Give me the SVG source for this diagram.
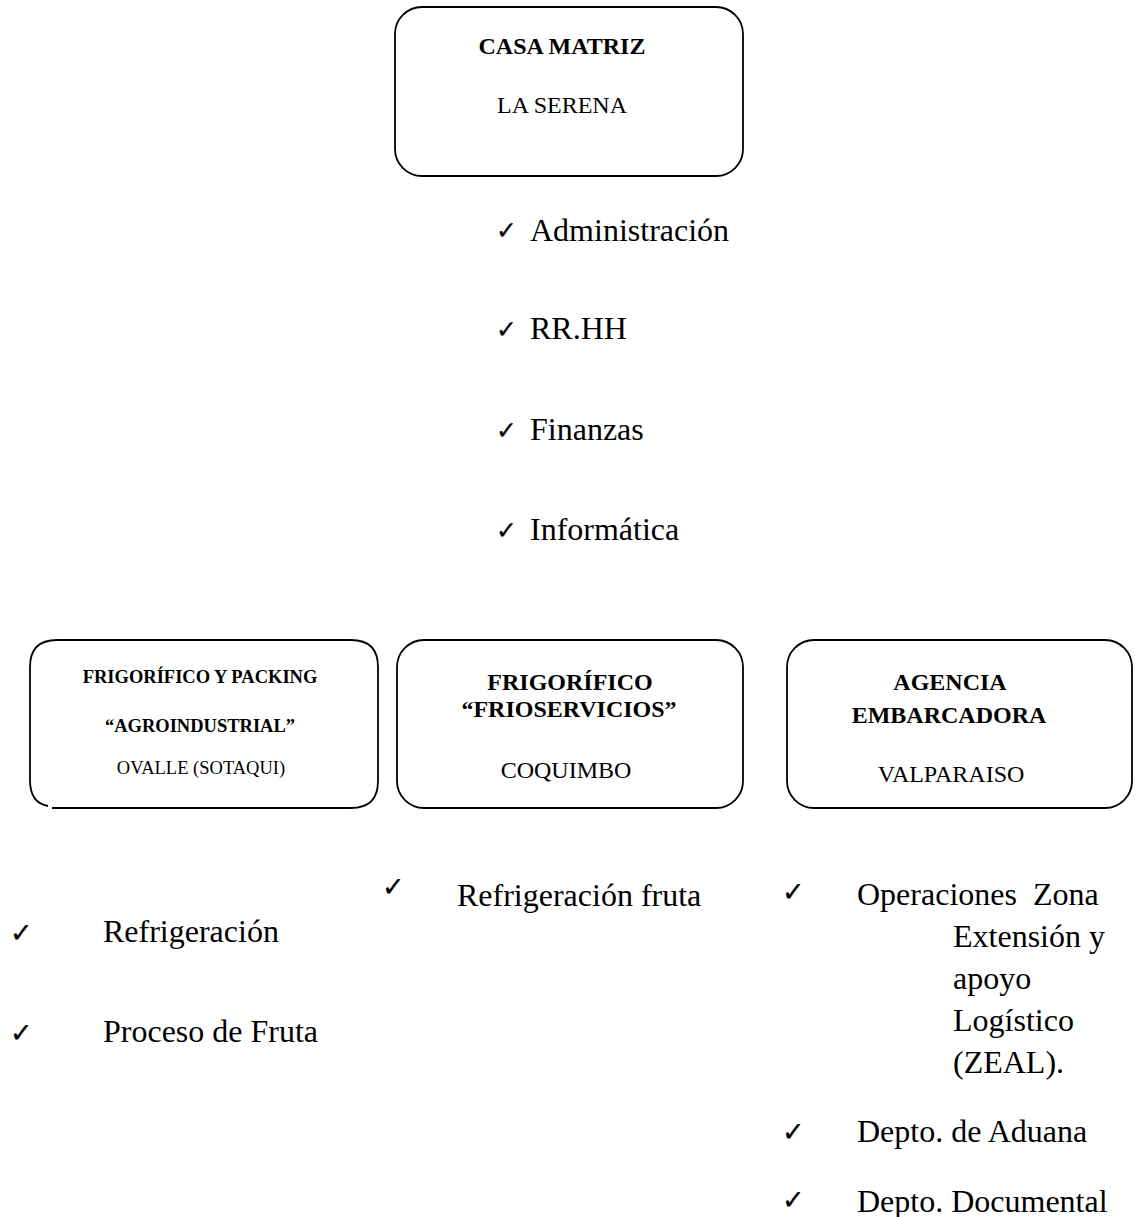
<svg xmlns="http://www.w3.org/2000/svg" width="1136" height="1217" viewBox="0 0 1136 1217">
<style>
.box{fill:none;stroke:#000;stroke-width:1.8}
.b{font-family:"Liberation Serif","Times New Roman",serif;font-weight:bold;fill:#000;text-anchor:middle}
.r{font-family:"Liberation Serif","Times New Roman",serif;fill:#000;text-anchor:middle}
.li{font-family:"Liberation Serif","Times New Roman",serif;font-size:32px;fill:#000;white-space:pre}
.ck{font-family:"DejaVu Sans",sans-serif;font-size:27px;fill:#000;stroke:#000;stroke-width:0.3}
.ct{font-family:"DejaVu Sans",sans-serif;font-size:25px;fill:#000;stroke:#000;stroke-width:0.3}
</style>
<rect width="1136" height="1217" fill="#fff"/>
<g id="connectors"/>
<g id="casa-matriz">
<rect class="box" x="395" y="7" width="348" height="169" rx="27"/>
<text class="b" x="562" y="54" font-size="24">CASA MATRIZ</text>
<text class="r" x="562" y="113" font-size="24">LA SERENA</text>
</g>
<g id="casa-matriz-list">
<text class="ct" x="496" y="239">✓</text><text class="li" x="530" y="241">Administración</text>
<text class="ct" x="496" y="338">✓</text><text class="li" x="530" y="339">RR.HH</text>
<text class="ct" x="496" y="439">✓</text><text class="li" x="530" y="440">Finanzas</text>
<text class="ct" x="496" y="539">✓</text><text class="li" x="530" y="540">Informática</text>
</g>
<g id="agroindustrial">
<path class="box" d="M30,667 Q30,640 57,640 H351 Q378,640 378,667 V781 Q378,808 351,808 H52 M30,667 V780 Q30,803 48,806"/>
<text class="b" x="200" y="683" font-size="18.5">FRIGORÍFICO Y PACKING</text>
<text class="b" x="200" y="732" font-size="18.5">“AGROINDUSTRIAL”</text>
<text class="r" x="201" y="774" font-size="18.5">OVALLE (SOTAQUI)</text>
</g>
<g id="frioservicios">
<rect class="box" x="397" y="640" width="346" height="168" rx="27"/>
<text class="b" x="570" y="690" font-size="24">FRIGORÍFICO</text>
<text class="b" x="569" y="717" font-size="24">“FRIOSERVICIOS”</text>
<text class="r" x="566" y="778" font-size="24">COQUIMBO</text>
</g>
<g id="agencia">
<rect class="box" x="787" y="640" width="345" height="168" rx="27"/>
<text class="b" x="950" y="690" font-size="24">AGENCIA</text>
<text class="b" x="949" y="723" font-size="24">EMBARCADORA</text>
<text class="r" x="951" y="782" font-size="24">VALPARAISO</text>
</g>
<g id="agroindustrial-list">
<text class="ck" x="10" y="942">✓</text><text class="li" x="103" y="942">Refrigeración</text>
<text class="ck" x="10" y="1042">✓</text><text class="li" x="103" y="1042">Proceso de Fruta</text>
</g>
<g id="frioservicios-list">
<text class="ck" x="382" y="896">✓</text><text class="li" x="457" y="906">Refrigeración fruta</text>
</g>
<g id="agencia-list">
<text class="ck" x="782" y="901">✓</text><text class="li" x="857" y="905">Operaciones  Zona</text>
<text class="li" x="953" y="947">Extensión y</text>
<text class="li" x="953" y="989">apoyo</text>
<text class="li" x="953" y="1031">Logístico</text>
<text class="li" x="953" y="1073">(ZEAL).</text>
<text class="ck" x="782" y="1141">✓</text><text class="li" x="857" y="1142">Depto. de Aduana</text>
<text class="ck" x="782" y="1209">✓</text><text class="li" x="857" y="1212">Depto. Documental</text>
</g>
</svg>
